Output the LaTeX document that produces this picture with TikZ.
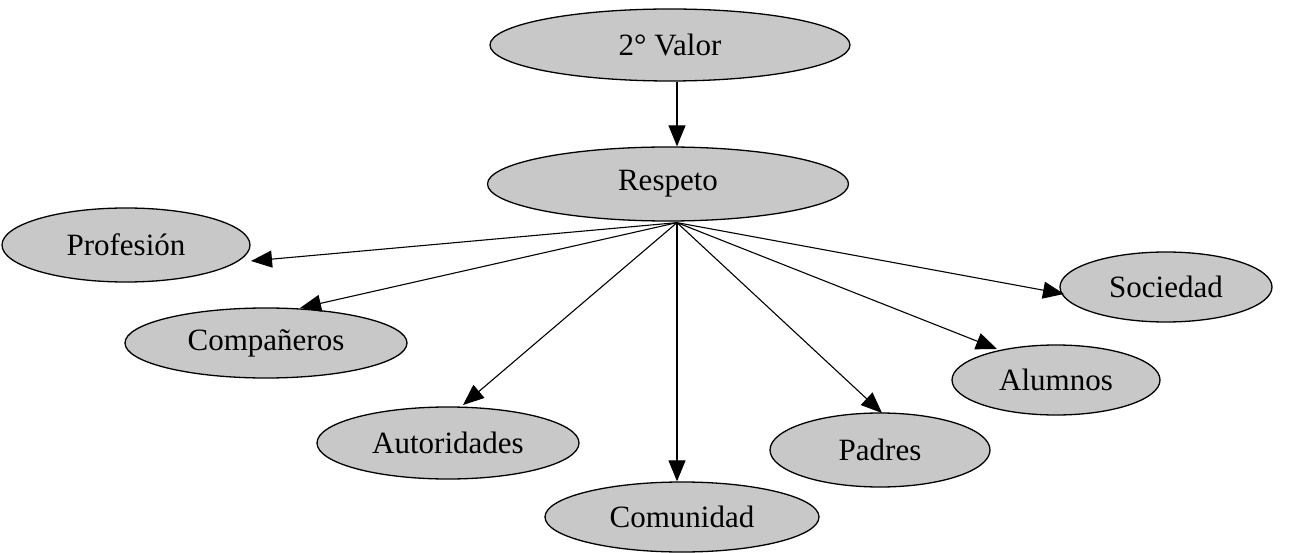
\documentclass[tikz,border=0pt]{standalone}
\usepackage{fontspec}
\setmainfont{Liberation Serif}
\usetikzlibrary{shapes.geometric,arrows.meta,calc}
\definecolor{ovalfill}{HTML}{C8C8C8}
\tikzset{
  oval/.style={ellipse, draw=black, line width=1.3pt, fill=ovalfill, inner sep=0pt,
    font=\fontsize{31}{36}\selectfont},
  arr/.style={draw=black, line width=1.1pt, -{Triangle[length=21pt,width=17pt]}}
}
\begin{document}
\begin{tikzpicture}[x=1pt,y=-1pt]
\useasboundingbox (0,0) rectangle (1298,553);
\node[oval, minimum width=360pt, minimum height=72pt] (v) at (670,45) {2° Valor};
\node[oval, minimum width=361pt, minimum height=74pt] (r) at (668,184) {Respeto};
\node[oval, minimum width=248pt, minimum height=74pt] (prof) at (126,245) {Profesión};
\node[oval, minimum width=282pt, minimum height=70pt] (comp) at (266,343) {Compañeros};
\node[oval, minimum width=262pt, minimum height=72pt] (auto) at (448,443) {Autoridades};
\node[oval, minimum width=274pt, minimum height=70pt] (comu) at (682,517) {Comunidad};
\node[oval, minimum width=220pt, minimum height=74pt] (pad) at (880,450) {Padres};
\node[oval, minimum width=208pt, minimum height=70pt] (alu) at (1056,380) {Alumnos};
\node[oval, minimum width=212pt, minimum height=70pt] (soc) at (1166,287) {Sociedad};
\coordinate (hub) at ($(r.south)+(9,1)$);
\draw[arr] (v.south -| hub) -- (r.north -| hub);
\draw[arr] (hub) -- ($(prof.center)+(125,16)$);
\draw[arr] (hub) -- ($(comp.center)+(34,-35)$);
\draw[arr] (hub) -- ($(auto.center)+(15,-38)$);
\draw[arr] (hub) -- (hub |- comu.north);
\draw[arr] (hub) -- ($(pad.center)+(2,-37)$);
\draw[arr] (hub) -- ($(alu.center)+(-59,-31)$);
\draw[arr] (hub) -- ($(soc.center)+(-102,7)$);
\end{tikzpicture}
\end{document}
